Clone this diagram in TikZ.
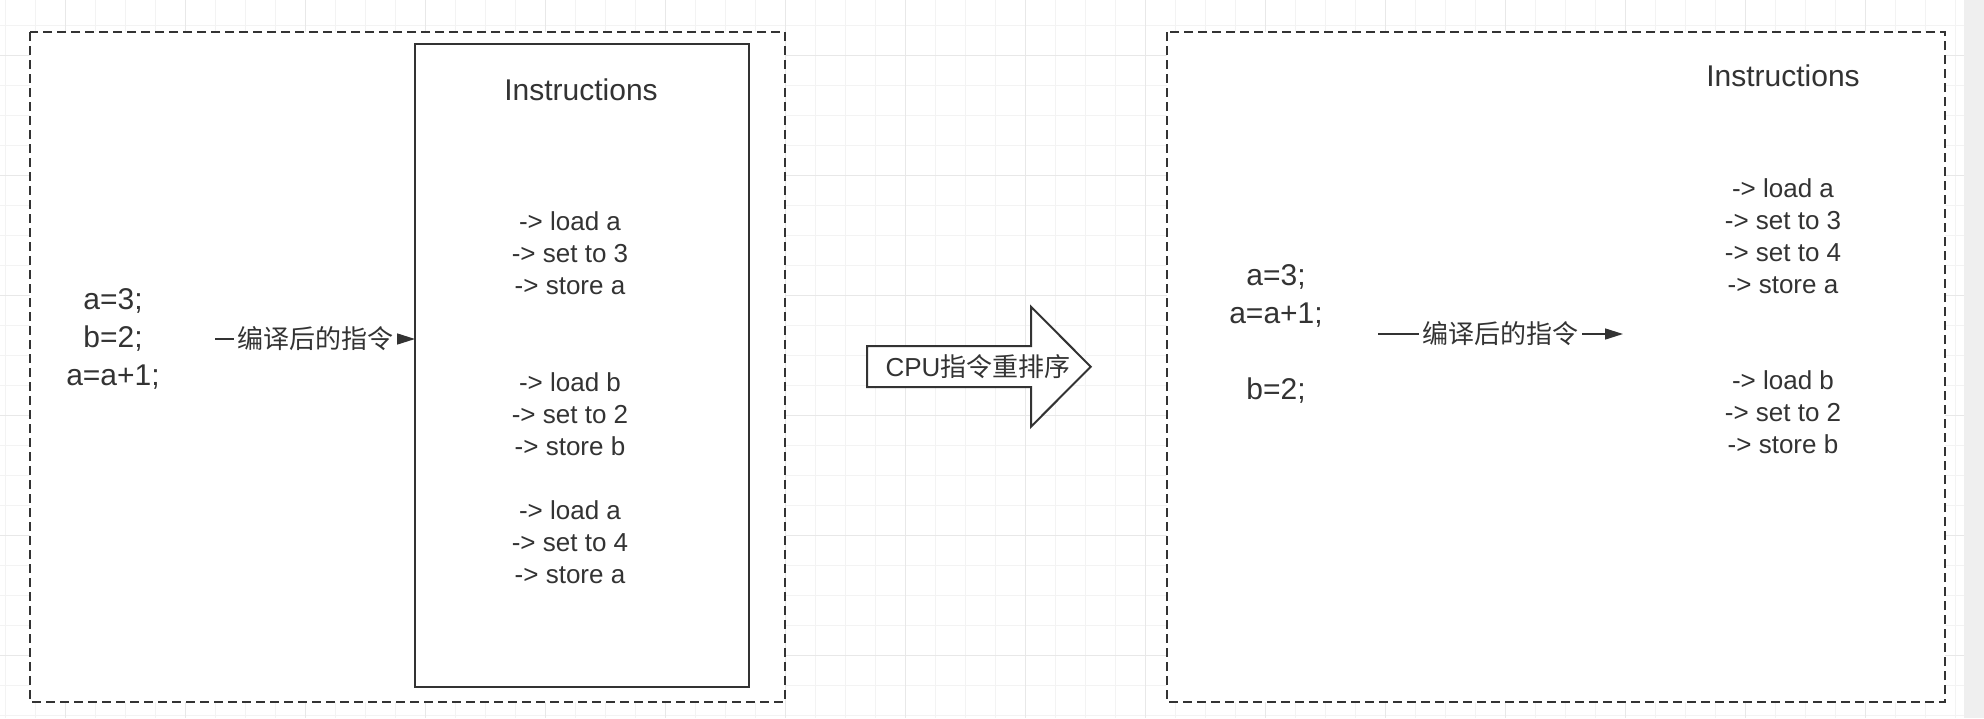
\documentclass[tikz,border=0pt]{standalone}
\usepackage{fontspec}
\setmainfont{Liberation Sans}
\newfontfamily\cjk{Noto Sans CJK SC}
\usetikzlibrary{arrows.meta}
\definecolor{ink}{HTML}{333333}
\definecolor{gridminor}{HTML}{F3F3F3}
\definecolor{gridmajor}{HTML}{E8E8E8}
\definecolor{band}{HTML}{EFEFEF}
\tikzset{
  every node/.style={text=ink, inner sep=0pt, outer sep=0pt},
  codetxt/.style={align=center, font=\fontsize{30}{38}\selectfont, minimum width=204pt},
  instrtxt/.style={align=center, font=\fontsize{26}{32}\selectfont},
  titletxt/.style={font=\fontsize{30}{36}\selectfont},
  lbl/.style={fill=white, font=\cjk\fontsize{26}{30}\selectfont, inner xsep=3.5pt, inner ysep=4pt},
  group/.style={draw=ink, line width=2pt, dash pattern=on 9pt off 5pt},
  instrbox/.style={draw=ink, line width=2pt, rectangle},
  conn/.style={draw=ink, line width=1.5pt, -{Triangle[length=18pt,width=11pt]}},
}
\begin{document}
\begin{tikzpicture}[x=1pt,y=-1pt]
\useasboundingbox (0,0) rectangle (1984,718);
% background and grid
\fill[white] (0,0) rectangle (1984,718);
\foreach \gx in {5,35,...,1955} {\draw[gridminor, line width=1pt] (\gx,0) -- (\gx,718);}
\foreach \gy in {25,55,...,715} {\draw[gridminor, line width=1pt] (0,\gy) -- (1964,\gy);}
\foreach \gx in {65,185,...,1865} {\draw[gridmajor, line width=1pt] (\gx,0) -- (\gx,718);}
\foreach \gy in {55,175,...,655} {\draw[gridmajor, line width=1pt] (0,\gy) -- (1964,\gy);}
\fill[band] (1964,0) rectangle (1984,718);

% left group
\draw[group, fill=white] (30,32) rectangle (785,702);
\node[instrbox, fill=white, minimum width=334pt, minimum height=643pt] (ibox) at (582,365.5) {};
\node[titletxt] (ltitle) at (581,90) {Instructions};
\node[instrtxt] (li1) at (570,253.7) {-> load a\\-> set to 3\\-> store a};
\node[instrtxt] (li2) at (570,414) {-> load b\\-> set to 2\\-> store b};
\node[instrtxt] (li3) at (570,541.7) {-> load a\\-> set to 4\\-> store a};
\node[codetxt] (lcode) at (113,339) {a=3;\\b=2;\\a=a+1;};
\draw[conn] (lcode.east) -- (lcode.east -| ibox.west)
  node[lbl, midway] (llbl) {编译后的指令};

% big arrow
\draw[ink, line width=2pt, fill=white, line join=miter]
  (867,346) -- (1031,346) -- (1031,306.7) -- (1090.7,366.7) -- (1031,426.7) -- (1031,387) -- (867,387) -- cycle;
\node[font=\fontsize{26}{30}\selectfont] (reorder) at (978,366.7) {CPU{\cjk 指令重排序}};

% right group
\draw[group, fill=white] (1167,32) rectangle (1945,702);
\node[titletxt] (rtitle) at (1783,76) {Instructions};
\node[instrtxt, minimum width=320pt] (rinstr) at (1783,316) {-> load a\\-> set to 3\\-> set to 4\\-> store a\\\strut\\\strut\\-> load b\\-> set to 2\\-> store b};
\node[codetxt] (rcode) at (1276,334) {a=3;\\a=a+1;\\\strut\\b=2;};
\draw[conn] (rcode.east) -- (rcode.east -| rinstr.west)
  node[lbl, midway] (rlbl) {编译后的指令};
\end{tikzpicture}
\end{document}
